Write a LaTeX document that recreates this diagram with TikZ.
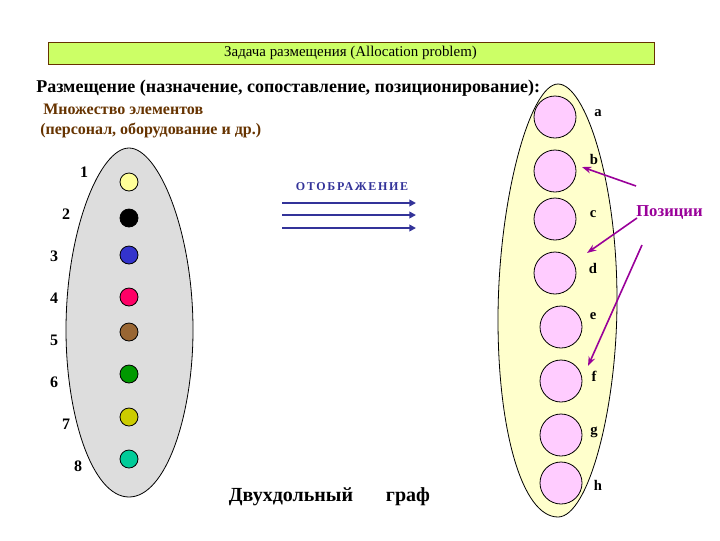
\documentclass[tikz,border=0pt]{standalone}
\usepackage{fontspec}
\setmainfont{Liberation Serif}
\usetikzlibrary{arrows.meta}
\definecolor{titlegreen}{RGB}{204,255,102}
\definecolor{grayegg}{RGB}{221,221,221}
\definecolor{yellowegg}{RGB}{255,255,204}
\definecolor{pinkpos}{RGB}{255,204,255}
\definecolor{navy}{RGB}{51,51,153}
\definecolor{purp}{RGB}{153,0,153}
\definecolor{brownt}{RGB}{102,51,0}
\definecolor{c1}{RGB}{255,255,153}
\definecolor{c2}{RGB}{0,0,0}
\definecolor{c3}{RGB}{51,51,204}
\definecolor{c4}{RGB}{255,0,102}
\definecolor{c5}{RGB}{153,102,51}
\definecolor{c6}{RGB}{0,153,0}
\definecolor{c7}{RGB}{204,204,0}
\definecolor{c8}{RGB}{0,204,153}
\tikzset{
  elem/.style={circle,draw=black,line width=0.6pt,minimum size=13.5pt,inner sep=0pt},
  poscirc/.style={circle,draw=black,line width=0.6pt,fill=pinkpos,minimum size=31.5pt,inner sep=0pt},
  numlbl/.style={font=\bfseries\fontsize{12}{14}\selectfont,inner sep=0pt},
  poslbl/.style={font=\bfseries\fontsize{11}{13}\selectfont,inner sep=0pt},
  maparrow/.style={draw=navy,line width=1.5pt,-{Triangle[length=5pt,width=5pt]}},
  posarrow/.style={draw=purp,line width=1.2pt,-{Stealth[length=7pt,width=5pt]}}
}
\begin{document}
\begin{tikzpicture}[x=0.75pt,y=-0.75pt]
\useasboundingbox (0,0) rectangle (720,540);
% title box
\node[draw=brownt,line width=0.9pt,fill=titlegreen,minimum width=454.5pt,minimum height=16.5pt,inner sep=0pt,anchor=north west] (title) at (48,42) {};
\node[font=\fontsize{11.2}{13}\selectfont,inner sep=0pt] (titletext) at (350.5,53) {Задача размещения (Allocation problem)};
% headings
\node[font=\bfseries\fontsize{13.5}{15}\selectfont,anchor=west,inner sep=0pt] (head) at (36,88) {Размещение (назначение, сопоставление, позиционирование):};
\node[font=\bfseries\fontsize{12}{14}\selectfont,text=brownt,anchor=west,inner sep=0pt] (set1) at (43,109) {Множество элементов};
\node[font=\bfseries\fontsize{12}{14}\selectfont,text=brownt,anchor=west,inner sep=0pt] (set2) at (40,130) {(персонал, оборудование и др.)};
% left egg
\draw[fill=grayegg,line width=0.6pt] (129,148) .. controls (100,148) and (66,230) .. (66,330)
  .. controls (66,415) and (92,497) .. (129,497)
  .. controls (166,497) and (193,415) .. (193,330)
  .. controls (193,230) and (158,148) .. (129,148) -- cycle;
% right egg
\draw[fill=yellowegg,line width=0.6pt] (558,84) .. controls (530,84) and (498,200) .. (498,320)
  .. controls (498,430) and (522,517) .. (558,517)
  .. controls (588,517) and (617,410) .. (617,300)
  .. controls (617,180) and (585,84) .. (558,84) -- cycle;
% elements
\node[elem,fill=c1] (e1) at (129,182) {};
\node[elem,fill=c2] (e2) at (129,218) {};
\node[elem,fill=c3] (e3) at (129,255) {};
\node[elem,fill=c4] (e4) at (129,297) {};
\node[elem,fill=c5] (e5) at (129,332) {};
\node[elem,fill=c6] (e6) at (129,374) {};
\node[elem,fill=c7] (e7) at (129,417) {};
\node[elem,fill=c8] (e8) at (129,459) {};
\node[numlbl] (n1) at (84,172) {1};
\node[numlbl] (n2) at (66,214) {2};
\node[numlbl] (n3) at (54,256) {3};
\node[numlbl] (n4) at (54,298) {4};
\node[numlbl] (n5) at (54,340) {5};
\node[numlbl] (n6) at (54,382) {6};
\node[numlbl] (n7) at (66,424) {7};
\node[numlbl] (n8) at (78,466) {8};
% positions
\node[poscirc] (pa) at (555,117) {};
\node[poscirc] (pb) at (555,171) {};
\node[poscirc] (pc) at (555,219) {};
\node[poscirc] (pd) at (555,273) {};
\node[poscirc] (pe) at (561,327) {};
\node[poscirc] (pf) at (561,381) {};
\node[poscirc] (pg) at (561,435) {};
\node[poscirc] (ph) at (561,483) {};
\node[poslbl] (la) at (598,113) {a};
\node[poslbl] (lb) at (594,159) {b};
\node[poslbl] (lc) at (593,214) {c};
\node[poslbl] (ld) at (593,268) {d};
\node[poslbl] (le) at (593,316) {e};
\node[poslbl] (lf) at (594,376) {f};
\node[poslbl] (lg) at (594,432) {g};
\node[poslbl] (lh) at (598,485) {h};
% mapping
\node[font=\bfseries\fontsize{9}{11}\selectfont\addfontfeature{LetterSpace=14},text=navy,inner sep=0pt] (map) at (352,187) {ОТОБРАЖЕНИЕ};
\coordinate (m1s) at (282,203); \coordinate (m1e) at (416,203);
\coordinate (m2s) at (282,215); \coordinate (m2e) at (416,215);
\coordinate (m3s) at (282,228); \coordinate (m3e) at (416,228);
\draw[maparrow] (m1s) -- (m1e);
\draw[maparrow] (m2s) -- (m2e);
\draw[maparrow] (m3s) -- (m3e);
% Позиции
\node[font=\bfseries\fontsize{12.5}{14}\selectfont,text=purp,anchor=west,inner sep=0pt] (posw) at (636,212) {Позиции};
\coordinate (p1s) at (636,186); \coordinate (p1e) at (582,167);
\coordinate (p2s) at (637,218); \coordinate (p2e) at (587,253);
\coordinate (p3s) at (642,245); \coordinate (p3e) at (588,366);
\draw[posarrow] (p1s) -- (p1e);
\draw[posarrow] (p2s) -- (p2e);
\draw[posarrow] (p3s) -- (p3e);
% bottom
\node[font=\bfseries\fontsize{15}{17}\selectfont,inner sep=0pt] (bi) at (291,497) {Двухдольный};
\node[font=\bfseries\fontsize{15}{17}\selectfont,inner sep=0pt] (gr) at (408,497) {граф};
\end{tikzpicture}
\end{document}
